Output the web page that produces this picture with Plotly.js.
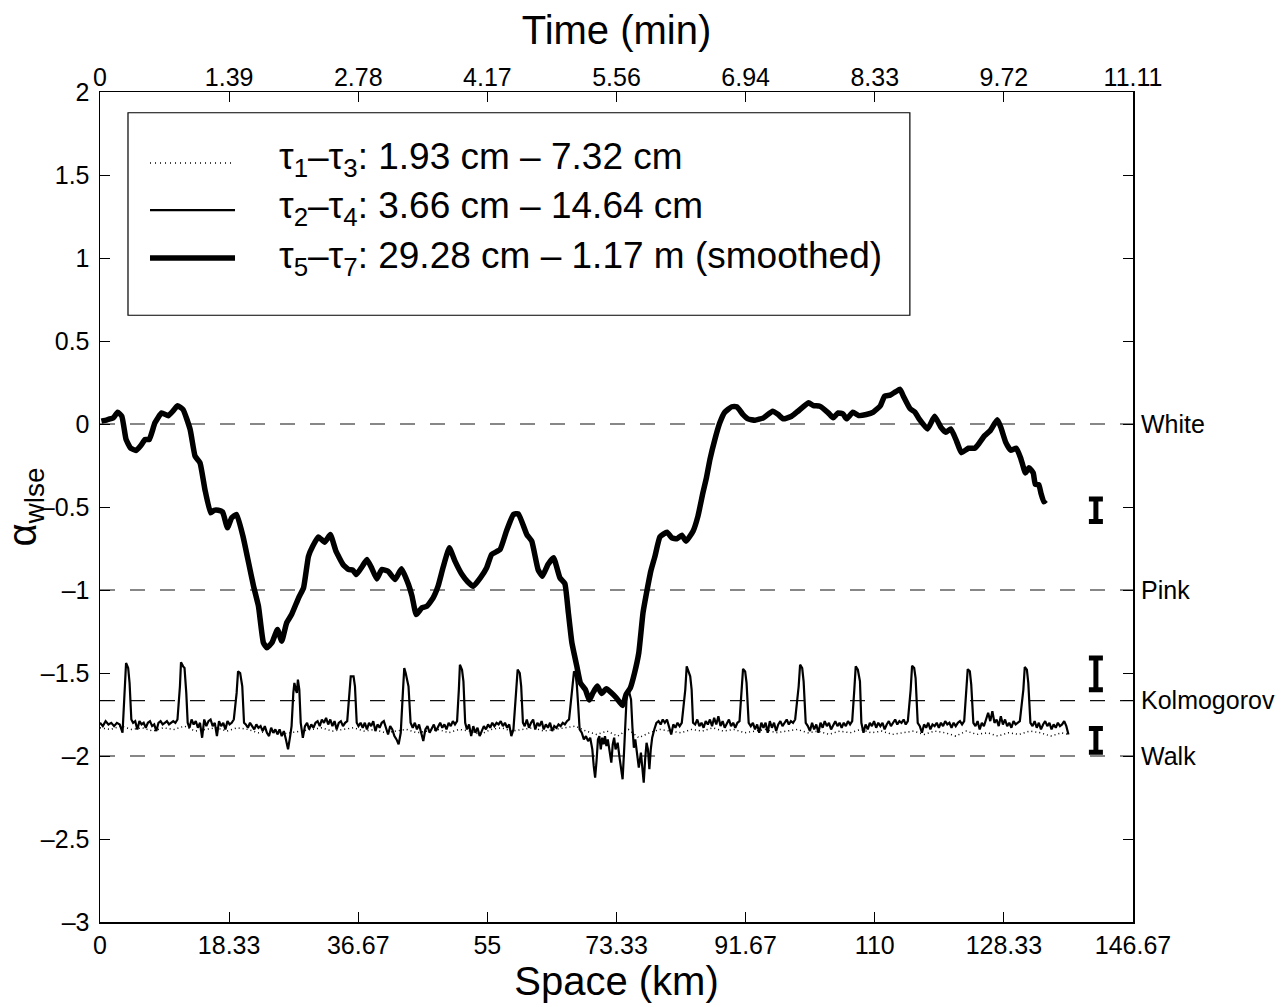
<!DOCTYPE html>
<html>
<head>
<meta charset="utf-8">
<script src="https://cdn.plot.ly/plotly-3.0.1.min.js"></script>
<style>html,body{margin:0;padding:0;background:#fff;}#chart{width:1281px;height:1007px;}</style>
</head>
<body>
<div id="chart"></div>
<script>
// ---- data ----
const kmTickVals = [0, 18.333, 36.667, 55, 73.333, 91.667, 110, 128.333, 146.667];
const kmTickText = ['0', '18.33', '36.67', '55', '73.33', '91.67', '110', '128.33', '146.67'];
const minTickVals = [0, 1.3889, 2.7778, 4.1667, 5.5556, 6.9444, 8.3333, 9.7222, 11.1111];
const minTickText = ['0', '1.39', '2.78', '4.17', '5.56', '6.94', '8.33', '9.72', '11.11'];
const alphaTickVals = [-3, -2.5, -2, -5/3, -1.5, -1, -0.5, 0, 0.5, 1, 1.5, 2];
const alphaTickText = ['–3', '–2.5', '–2', '', '–1.5', '–1', '–0.5', '0', '0.5', '1', '1.5', '2'];
const refVals = [0, -1, -5/3, -2];
const refNames = ['White', 'Pink', 'Kolmogorov', 'Walk'];
const legendNames = [
  'τ<sub>1</sub>–τ<sub>3</sub>: 1.93 cm – 7.32 cm',
  'τ<sub>2</sub>–τ<sub>4</sub>: 3.66 cm – 14.64 cm',
  'τ<sub>5</sub>–τ<sub>7</sub>: 29.28 cm – 1.17 m (smoothed)'
];

// tau1-tau3 (dotted)
const dotKm = [0,1.5,3,4.5,6,7.5,9,10.5,12,13.5,
  15,16.5,18,19.5,21,22.5,24,25.5,27,28.5,
  30,31.5,33,34.5,36,37.5,39,40.5,42,43.5,
  45,46.5,48,49.5,51,52.5,54,55.5,57,58.5,
  60,61.5,63,64.5,66,67.5,69,70.5,72,73.5,
  75,76.5,78,79.5,81,82.5,84,85.5,87,88.5,
  90,91.5,93,94.5,96,97.5,99,100.5,102,103.5,
  105,106.5,108,109.5,111,112.5,114,115.5,117,118.5,
  120,121.5,123,124.5,126,127.5,129,130.5,132,133.5,
  135,136.5,137.5];
const dotAlpha = [-1.83,-1.84,-1.82,-1.84,-1.83,-1.85,-1.83,-1.84,-1.82,-1.85,
  -1.84,-1.83,-1.85,-1.83,-1.84,-1.86,-1.85,-1.87,-1.86,-1.85,
  -1.84,-1.83,-1.85,-1.84,-1.83,-1.85,-1.84,-1.86,-1.85,-1.84,
  -1.86,-1.85,-1.84,-1.86,-1.84,-1.85,-1.87,-1.84,-1.83,-1.85,
  -1.84,-1.83,-1.85,-1.84,-1.83,-1.82,-1.85,-1.87,-1.85,-1.88,
  -1.84,-1.89,-1.86,-1.84,-1.85,-1.86,-1.84,-1.85,-1.83,-1.85,
  -1.84,-1.86,-1.85,-1.84,-1.86,-1.85,-1.84,-1.86,-1.85,-1.87,
  -1.85,-1.86,-1.84,-1.86,-1.85,-1.87,-1.86,-1.85,-1.87,-1.85,
  -1.86,-1.88,-1.85,-1.87,-1.86,-1.88,-1.86,-1.87,-1.85,-1.86,
  -1.88,-1.86,-1.87];

// tau2-tau4 (thin solid)
const thinKm = [0,0.4,0.8,1.2,1.6,2.0,2.4,2.8,3.2,
  3.55,3.7,4.0,4.2,4.45,
  4.7,5.0,5.3,5.6,5.9,6.2,6.5,6.8,7.1,7.4,7.7,8.0,8.3,8.6,8.9,9.2,9.5,9.8,10.1,10.4,10.7,11.0,
  11.35,11.5,11.8,12.0,12.25,12.45,
  12.7,13.0,13.3,13.6,13.9,14.2,14.5,14.8,15.1,15.4,15.7,16.0,16.3,16.6,16.9,17.2,17.5,17.8,18.1,18.4,18.7,19.0,
  19.4,19.6,19.9,20.2,20.45,
  20.7,21.0,21.3,21.6,21.9,22.2,22.5,22.8,23.1,23.4,23.7,24.0,24.3,24.6,24.9,25.2,25.5,25.8,26.1,26.4,26.7,27.0,27.2,
  27.45,27.6,27.8,27.95,28.1,28.3,28.5,
  28.8,29.1,29.4,29.7,30.0,30.3,30.6,30.9,31.2,31.5,31.8,32.1,32.4,32.7,33.0,33.3,33.6,33.9,34.2,34.5,34.8,35.1,
  35.45,35.6,36.0,36.2,36.45,
  36.7,37.0,37.3,37.6,37.9,38.2,38.5,38.8,39.1,39.4,39.7,40.0,40.3,40.6,40.9,41.2,41.5,41.8,42.1,42.4,42.7,
  43.0,43.2,43.4,43.6,43.8,44.1,
  44.4,44.7,45.0,45.3,45.6,45.9,46.2,46.5,46.8,47.1,47.4,47.7,48.0,48.3,48.6,48.9,49.2,49.5,49.8,50.1,50.4,50.7,
  50.95,51.1,51.4,51.6,51.85,
  52.1,52.4,52.7,53.0,53.3,53.6,53.9,54.2,54.5,54.8,55.1,55.4,55.7,56.0,56.3,56.6,56.9,57.2,57.5,57.8,58.1,58.4,58.7,
  59.1,59.3,59.6,59.8,60.05,
  60.3,60.6,60.9,61.2,61.5,61.8,62.1,62.4,62.7,63.0,63.3,63.6,63.9,64.2,64.5,64.8,65.1,65.4,65.7,66.0,66.3,66.6,
  67.0,67.3,67.5,67.7,67.9,68.1,
  68.4,68.7,69.0,69.3,69.6,69.9,70.1,70.3,70.5,70.7,70.9,71.1,71.3,71.5,71.7,71.9,72.1,72.4,72.6,72.8,73.0,73.2,73.5,73.8,74.0,74.2,74.4,
  74.6,74.8,75.1,75.4,75.6,75.8,76.0,
  76.2,76.5,76.8,77.0,77.2,77.4,77.6,77.8,78.0,78.2,78.4,78.7,79.0,
  79.3,79.6,79.9,80.2,80.5,80.8,81.1,81.4,81.7,82.0,82.3,82.6,
  83.1,83.3,83.6,83.8,84.0,84.2,
  84.5,84.8,85.1,85.4,85.7,86.0,86.3,86.6,86.9,87.2,87.5,87.8,88.1,88.4,88.7,89.0,89.3,89.6,89.9,90.2,90.5,90.8,
  91.1,91.3,91.6,91.8,92.1,
  92.4,92.7,93.0,93.3,93.6,93.9,94.2,94.5,94.8,95.1,95.4,95.7,96.0,96.3,96.6,96.9,97.2,97.5,97.8,98.1,98.4,98.7,
  99.2,99.4,99.7,99.9,100.2,
  100.5,100.8,101.1,101.4,101.7,102.0,102.3,102.6,102.9,103.2,103.5,103.8,104.1,104.4,104.7,105.0,105.3,105.6,105.9,106.2,106.5,106.8,
  107.1,107.3,107.6,107.9,108.1,
  108.4,108.7,109.0,109.3,109.6,109.9,110.2,110.5,110.8,111.1,111.4,111.7,112.0,112.3,112.6,112.9,113.2,113.5,113.8,114.1,114.4,114.7,
  115.1,115.3,115.6,115.8,116.1,
  116.4,116.7,117.0,117.3,117.6,117.9,118.2,118.5,118.8,119.1,119.4,119.7,120.0,120.3,120.6,120.9,121.2,121.5,121.8,122.1,122.4,122.7,
  123.0,123.2,123.5,123.7,124.0,
  124.3,124.6,124.9,125.2,125.5,125.8,126.1,126.4,126.7,127.0,127.3,127.6,127.9,128.2,128.5,128.8,129.1,129.4,129.7,130.0,130.3,130.6,
  131.1,131.3,131.6,131.8,132.1,
  132.4,132.7,133.0,133.3,133.6,133.9,134.2,134.5,134.8,135.1,135.4,135.7,136.0,136.3,136.6,136.9,137.2,137.5];
const thinAlpha = [-1.80,-1.82,-1.79,-1.81,-1.80,-1.82,-1.80,-1.81,-1.86,
  -1.58,-1.44,-1.47,-1.56,-1.78,
  -1.80,-1.79,-1.84,-1.79,-1.81,-1.80,-1.83,-1.80,-1.79,-1.82,-1.81,-1.85,-1.80,-1.79,-1.81,-1.80,-1.79,-1.81,-1.80,-1.79,-1.80,-1.78,
  -1.58,-1.435,-1.46,-1.47,-1.62,-1.80,
  -1.83,-1.78,-1.81,-1.79,-1.83,-1.80,-1.89,-1.78,-1.82,-1.79,-1.78,-1.82,-1.80,-1.88,-1.79,-1.82,-1.80,-1.84,-1.79,-1.81,-1.80,-1.78,
  -1.62,-1.49,-1.50,-1.58,-1.80,
  -1.81,-1.83,-1.80,-1.82,-1.84,-1.81,-1.83,-1.82,-1.85,-1.82,-1.86,-1.88,-1.83,-1.86,-1.84,-1.87,-1.84,-1.88,-1.85,-1.90,-1.96,-1.88,-1.82,
  -1.62,-1.56,-1.60,-1.62,-1.54,-1.60,-1.80,
  -1.89,-1.82,-1.80,-1.84,-1.81,-1.83,-1.80,-1.79,-1.82,-1.78,-1.80,-1.77,-1.81,-1.78,-1.82,-1.79,-1.84,-1.80,-1.79,-1.82,-1.80,-1.79,
  -1.62,-1.52,-1.52,-1.58,-1.80,
  -1.82,-1.80,-1.83,-1.80,-1.84,-1.80,-1.82,-1.79,-1.85,-1.81,-1.83,-1.80,-1.79,-1.83,-1.87,-1.82,-1.84,-1.88,-1.90,-1.93,-1.86,
  -1.62,-1.47,-1.50,-1.54,-1.58,-1.80,
  -1.83,-1.80,-1.84,-1.81,-1.86,-1.91,-1.84,-1.82,-1.86,-1.83,-1.81,-1.85,-1.82,-1.80,-1.83,-1.81,-1.84,-1.80,-1.82,-1.79,-1.81,-1.79,
  -1.60,-1.45,-1.48,-1.55,-1.80,
  -1.84,-1.81,-1.88,-1.82,-1.86,-1.83,-1.88,-1.85,-1.82,-1.84,-1.81,-1.83,-1.80,-1.82,-1.80,-1.81,-1.79,-1.82,-1.80,-1.83,-1.81,-1.88,-1.84,
  -1.60,-1.48,-1.50,-1.58,-1.80,
  -1.82,-1.78,-1.83,-1.80,-1.78,-1.84,-1.80,-1.82,-1.79,-1.84,-1.81,-1.83,-1.80,-1.85,-1.82,-1.83,-1.81,-1.82,-1.80,-1.81,-1.79,-1.78,
  -1.60,-1.49,-1.50,-1.57,-1.70,-1.84,
  -1.86,-1.90,-1.88,-1.91,-1.89,-1.96,-2.06,-2.13,-2.03,-1.90,-1.88,-1.96,-1.89,-1.93,-1.88,-1.94,-1.90,-1.98,-2.04,-1.93,-1.89,-1.96,-1.92,-2.02,-2.10,-2.14,-1.98,
  -1.78,-1.62,-1.61,-1.66,-1.83,-1.95,-1.90,
  -1.96,-2.07,-1.98,-2.10,-2.16,-2.02,-1.92,-1.96,-2.08,-1.96,-1.89,-1.84,-1.80,
  -1.79,-1.81,-1.78,-1.80,-1.78,-1.82,-1.87,-1.81,-1.83,-1.80,-1.82,-1.80,
  -1.60,-1.46,-1.50,-1.52,-1.60,-1.80,
  -1.81,-1.78,-1.82,-1.80,-1.83,-1.79,-1.81,-1.78,-1.82,-1.77,-1.81,-1.76,-1.82,-1.79,-1.83,-1.80,-1.78,-1.82,-1.80,-1.83,-1.80,-1.79,
  -1.60,-1.475,-1.49,-1.56,-1.80,
  -1.82,-1.80,-1.84,-1.81,-1.86,-1.80,-1.83,-1.80,-1.86,-1.79,-1.83,-1.80,-1.85,-1.81,-1.79,-1.82,-1.80,-1.78,-1.81,-1.79,-1.80,-1.78,
  -1.58,-1.45,-1.47,-1.55,-1.80,
  -1.82,-1.85,-1.80,-1.84,-1.81,-1.86,-1.80,-1.83,-1.79,-1.82,-1.80,-1.84,-1.81,-1.79,-1.82,-1.80,-1.83,-1.80,-1.82,-1.79,-1.81,-1.79,
  -1.60,-1.46,-1.48,-1.55,-1.80,
  -1.86,-1.81,-1.84,-1.80,-1.82,-1.79,-1.83,-1.80,-1.82,-1.80,-1.84,-1.81,-1.79,-1.82,-1.80,-1.78,-1.81,-1.79,-1.80,-1.78,-1.81,-1.79,
  -1.60,-1.456,-1.47,-1.53,-1.80,
  -1.82,-1.86,-1.81,-1.83,-1.80,-1.84,-1.81,-1.82,-1.80,-1.83,-1.80,-1.82,-1.79,-1.81,-1.80,-1.83,-1.80,-1.82,-1.80,-1.79,-1.81,-1.79,
  -1.60,-1.477,-1.49,-1.57,-1.80,
  -1.82,-1.79,-1.84,-1.80,-1.82,-1.78,-1.74,-1.79,-1.73,-1.80,-1.78,-1.82,-1.76,-1.81,-1.78,-1.82,-1.80,-1.83,-1.79,-1.81,-1.80,-1.79,
  -1.60,-1.464,-1.48,-1.56,-1.80,
  -1.82,-1.79,-1.83,-1.80,-1.84,-1.81,-1.79,-1.82,-1.80,-1.84,-1.81,-1.83,-1.80,-1.82,-1.81,-1.79,-1.82,-1.87];

// tau5-tau7 (thick, smoothed)
const thickKm = [0.2,1.0,1.9,2.5,3.1,3.7,4.3,5.1,5.8,6.4,7.0,7.8,8.75,9.7,10.4,11.0,11.8,12.8,13.5,14.2,
  14.9,15.7,16.2,16.8,17.4,18.1,18.7,19.4,20.3,21.1,21.8,22.5,23.2,23.7,24.4,25.2,25.8,26.5,27.2,28.2,
  28.9,29.6,30.2,31.0,31.9,32.7,33.5,34.5,35.3,35.9,36.4,37.2,37.9,38.6,39.3,40.0,40.9,41.9,42.8,43.8,
  44.3,44.9,45.7,46.4,47.3,48.0,48.7,49.6,50.4,51.4,52.2,53.0,54.0,54.9,55.6,56.8,57.7,58.7,59.4,60.6,
  61.3,62.2,62.8,63.6,64.4,65.3,66.0,66.5,67.0,67.7,68.2,68.9,69.5,70.0,70.6,71.2,71.9,72.6,73.3,74.2,
  74.7,75.3,75.9,76.5,77.1,77.6,78.2,78.8,79.5,80.5,81.2,81.9,82.6,83.2,84.2,84.9,85.6,86.1,86.6,87.3,
  88.0,88.7,89.7,90.4,91.3,92.0,93.0,94.2,95.5,96.3,97.0,98.2,99.1,100.6,101.3,102.2,103.4,104.1,104.8,105.5,
  106.0,106.9,107.7,108.8,109.8,110.8,111.4,112.2,113.0,113.6,114.1,115.0,115.7,116.3,117.5,118.5,119.4,120.1,120.8,121.6,
  122.3,123.3,124.2,124.8,125.6,126.4,127.4,127.9,128.6,129.3,130.1,130.7,131.4,131.9,132.5,132.8,133.3,133.6,134.0,134.3];
const thickAlpha = [0.017,0.025,0.037,0.071,0.047,-0.093,-0.143,-0.16,-0.13,-0.093,-0.093,0.007,0.067,0.05,0.08,0.11,0.087,-0.033,-0.194,-0.234,
  -0.395,-0.535,-0.52,-0.52,-0.53,-0.625,-0.565,-0.545,-0.676,-0.836,-0.977,-1.098,-1.318,-1.348,-1.318,-1.238,-1.308,-1.198,-1.148,-1.047,
  -0.987,-0.796,-0.736,-0.68,-0.712,-0.666,-0.766,-0.846,-0.877,-0.88,-0.907,-0.86,-0.816,-0.87,-0.933,-0.877,-0.887,-0.937,-0.872,-0.967,
  -1.037,-1.148,-1.107,-1.098,-1.047,-0.977,-0.866,-0.746,-0.826,-0.907,-0.95,-0.977,-0.927,-0.866,-0.786,-0.756,-0.646,-0.545,-0.541,-0.666,
  -0.706,-0.877,-0.917,-0.846,-0.806,-0.927,-0.961,-1.137,-1.318,-1.459,-1.559,-1.599,-1.663,-1.619,-1.579,-1.623,-1.595,-1.619,-1.649,-1.696,
  -1.629,-1.589,-1.499,-1.378,-1.137,-1.017,-0.887,-0.796,-0.68,-0.652,-0.686,-0.692,-0.67,-0.706,-0.646,-0.555,-0.415,-0.324,-0.214,-0.093,
  0.007,0.071,0.104,0.104,0.057,0.031,0.023,0.037,0.077,0.057,0.031,0.047,0.077,0.128,0.111,0.107,0.067,0.037,0.067,0.06,
  0.031,0.071,0.051,0.057,0.072,0.11,0.168,0.174,0.195,0.209,0.164,0.093,0.072,0.031,-0.03,0.046,-0.02,-0.05,-0.03,-0.101,
  -0.173,-0.146,-0.146,-0.117,-0.07,-0.04,0.025,-0.02,-0.111,-0.158,-0.146,-0.203,-0.295,-0.264,-0.295,-0.363,-0.366,-0.417,-0.469,-0.458];

// error bars at the right
const errKm = [141.4, 141.4, 141.4];
const errCenter = [-0.52, -1.505, -1.906];
const errHalf = [0.068, 0.096, 0.071];

// ---- chart ----
const FONT = 'Liberation Sans, Arial, Helvetica, sans-serif';
const traces = [
  {x: dotKm, y: dotAlpha, type: 'scatter', mode: 'lines', name: legendNames[0],
   line: {color: '#000', width: 1.5, dash: '1px,3px'}, showlegend: false, hoverinfo: 'skip'},
  {x: thinKm, y: thinAlpha, type: 'scatter', mode: 'lines', name: legendNames[1],
   line: {color: '#000', width: 2.2}, showlegend: false, hoverinfo: 'skip'},
  {x: thickKm, y: thickAlpha, type: 'scatter', mode: 'lines', name: legendNames[2],
   line: {color: '#000', width: 5.5, shape: 'spline', smoothing: 0.4}, showlegend: false, hoverinfo: 'skip'},
  {x: errKm, y: errCenter, type: 'scatter', mode: 'markers', name: 'error', yaxis: 'y2',
   marker: {size: 1, color: 'rgba(0,0,0,0)'},
   error_y: {type: 'data', array: errHalf, symmetric: true, color: '#000', thickness: 5, width: 7},
   showlegend: false, hoverinfo: 'skip'},
  // empty helper so that the top (time) axis is drawn; it has no visible marks
  {x: minTickVals, y: minTickVals.map(() => null), type: 'scatter', mode: 'lines', name: 'time axis',
   xaxis: 'x2', yaxis: 'y2', showlegend: false, hoverinfo: 'skip', line: {width: 0}}
];

const shapes = [];
refVals.forEach(v => shapes.push({type: 'line', xref: 'x', yref: 'y', x0: 0, x1: 146.667, y0: v, y1: v,
  line: {color: '#111', width: 1.2, dash: '15px,15px'}, layer: 'below'}));
// legend box
shapes.push({type: 'rect', xref: 'paper', yref: 'paper', x0: 0.0271, x1: 0.784, y0: 0.731, y1: 0.975,
  line: {color: '#000', width: 1.2}, fillcolor: '#fff'});
const legRowY = [0.9145, 0.8578, 0.800];
const legTextShift = [0.005, 0.002, 0.0];
const legStyles = [{width: 1.5, dash: '1px,4px'}, {width: 2.2, dash: 'solid'}, {width: 5.5, dash: 'solid'}];
legRowY.forEach((y, i) => shapes.push({type: 'line', xref: 'paper', yref: 'paper', x0: 0.0484, x1: 0.1307, y0: y, y1: y,
  line: Object.assign({color: '#000'}, legStyles[i])}));
const annotations = legRowY.map((y, i) => ({xref: 'paper', yref: 'paper', x: 0.171, y: y + legTextShift[i],
  xanchor: 'left', yanchor: 'middle', showarrow: false, text: legendNames[i],
  font: {family: FONT, size: 37, color: '#000'}}));

const layout = {
  width: 1281, height: 1007,
  margin: {l: 100, r: 148, t: 92, b: 85, pad: 0},
  paper_bgcolor: '#fff', plot_bgcolor: '#fff',
  font: {family: FONT, size: 25, color: '#000'},
  showlegend: false,
  xaxis: {range: [0, 146.667], tickvals: kmTickVals, ticktext: kmTickText, ticks: 'inside', ticklen: 10,
    tickwidth: 1, tickcolor: '#000', showline: true, linecolor: '#000', linewidth: 1.5, mirror: 'ticks',
    showgrid: false, zeroline: false, tickfont: {size: 25},
    title: {text: 'Space (km)', font: {size: 40}, standoff: 6}},
  xaxis2: {overlaying: 'x', side: 'top', anchor: 'y2', range: [0, 11.1111], tickvals: minTickVals, ticktext: minTickText,
    ticks: '', showline: false, showgrid: false, zeroline: false, tickfont: {size: 25},
    title: {text: 'Time (min)', font: {size: 40}, standoff: 6}},
  yaxis: {range: [-3, 2], tickvals: alphaTickVals, ticktext: alphaTickText, ticks: 'inside', ticklen: 10,
    tickwidth: 1, tickcolor: '#000', showline: true, linecolor: '#000', linewidth: 1.5, mirror: 'ticks',
    showgrid: false, zeroline: false, tickfont: {size: 25}, ticklabelstandoff: 4,
    title: {text: 'α<sub>wlse</sub>', font: {size: 40}, standoff: 0}},
  yaxis2: {overlaying: 'y', side: 'right', anchor: 'x', range: [-3, 2], tickvals: refVals, ticktext: refNames,
    ticks: 'outside', ticklen: 2, tickcolor: 'rgba(0,0,0,0)', showline: false, showgrid: false, zeroline: false,
    tickfont: {size: 25}},
  shapes: shapes,
  annotations: annotations
};

Plotly.newPlot('chart', traces, layout, {staticPlot: true, displayModeBar: false});
</script>
</body>
</html>
